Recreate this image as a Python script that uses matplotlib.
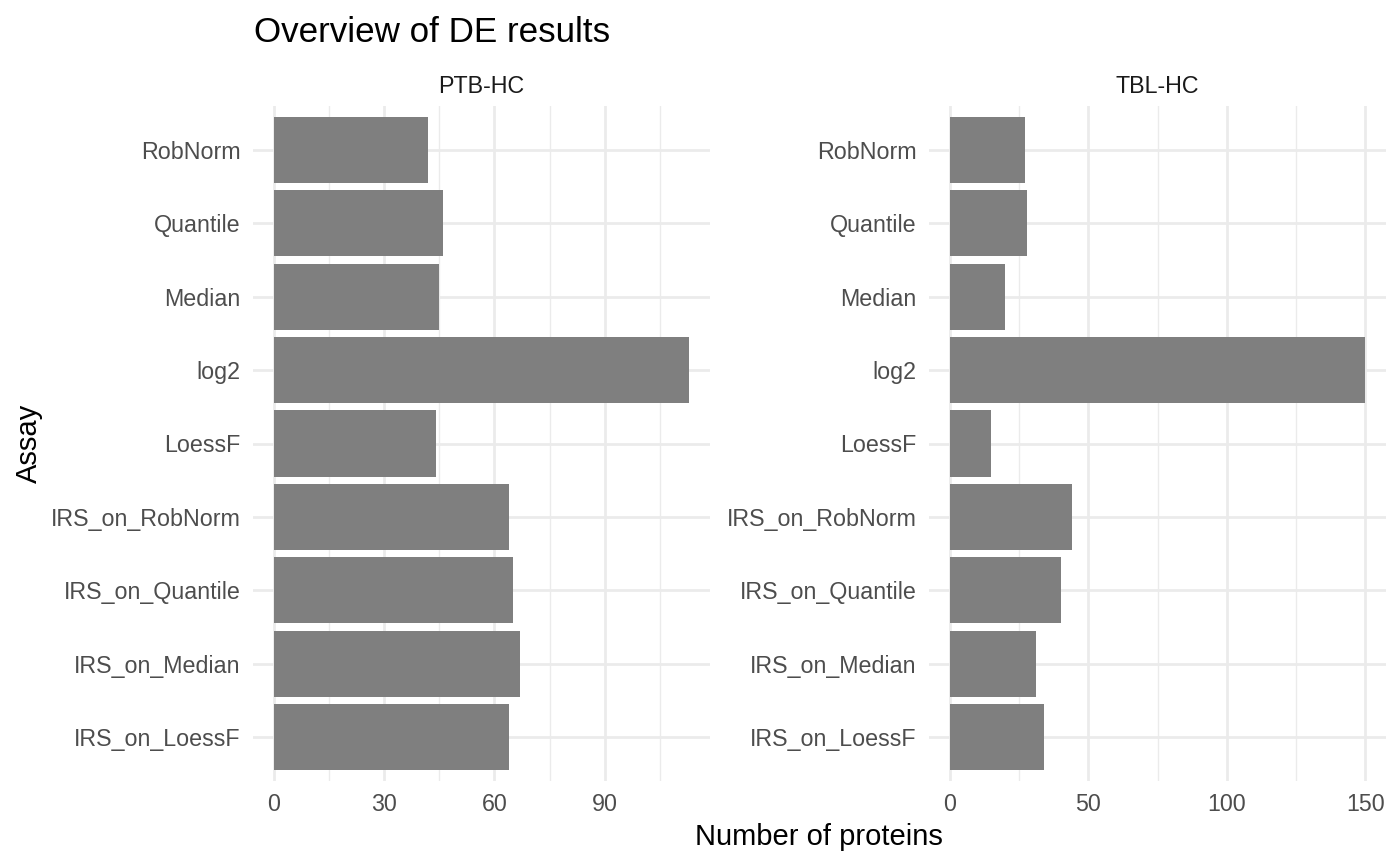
import matplotlib
matplotlib.use("Agg")
import matplotlib.pyplot as plt
import numpy as np

plt.rcParams['font.family'] = ['Liberation Sans', 'DejaVu Sans']

# assays, bottom to top as ggplot orders them
assays = ["IRS_on_LoessF", "IRS_on_Median", "IRS_on_Quantile", "IRS_on_RobNorm",
          "LoessF", "log2", "Median", "Quantile", "RobNorm"]
ptb_hc = [64, 67, 65, 64, 44, 113, 45, 46, 42]
tbl_hc = [34, 31, 40, 44, 15, 150, 20, 28, 27]

panels = ["PTB-HC", "TBL-HC"]
major_ticks = [[0, 30, 60, 90], [0, 50, 100, 150]]
minor_ticks = [[15, 45, 75, 105], [25, 75, 125]]

W, H = 1400, 865
grid_col = "#EBEBEB"
bar_col = "#7F7F7F"
fs = 0.955  # liberation runs a little wider than the original font


def main():
    fig = plt.figure(figsize=(7, 4.325), dpi=200)
    lefts = [253, 929]
    top, bottom = 106, 781
    pw = 457
    y = np.arange(1, len(assays) + 1)

    for i, (name, vals) in enumerate(zip(panels, [ptb_hc, tbl_hc])):
        ax = fig.add_axes([lefts[i] / W, 1 - bottom / H, pw / W, (bottom - top) / H])
        vmax = max(vals)
        ax.set_xlim(-0.05 * vmax, 1.05 * vmax)
        ax.set_ylim(0.4, len(assays) + 0.6)

        for x in minor_ticks[i]:
            ax.axvline(x, color=grid_col, lw=0.5, zorder=0)
        for x in major_ticks[i]:
            ax.axvline(x, color=grid_col, lw=1.0, zorder=0)
        for yy in y:
            ax.axhline(yy, color=grid_col, lw=1.0, zorder=0)

        ax.barh(y, vals, height=0.9, color=bar_col, zorder=2)

        ax.set_xticks(major_ticks[i])
        ax.set_yticks(y)
        ax.set_yticklabels(assays)
        ax.tick_params(length=0, labelsize=8.8 * fs, labelcolor="#4D4D4D", pad=4.4)
        for s in ax.spines.values():
            s.set_visible(False)
        ax.set_facecolor("none")

        cx = (lefts[i] + pw / 2) / W
        fig.text(cx, 1 - 93 / H, name, ha="center", va="baseline",
                 fontsize=8.8 * fs, color="#1A1A1A")

    fig.text(254 / W, 1 - 42 / H, "Overview of DE results", ha="left",
             va="baseline", fontsize=13.2 * fs, color="black")
    fig.text(819 / W, 1 - 845 / H, "Number of proteins", ha="center",
             va="baseline", fontsize=11 * fs, color="black")
    fig.text(29 / W, 1 - 443 / H, "Assay", ha="center", va="center",
             rotation=90, fontsize=11 * fs, color="black")

    fig.savefig("out.png", dpi=200, facecolor="white")


if __name__ == '__main__':
    main()
